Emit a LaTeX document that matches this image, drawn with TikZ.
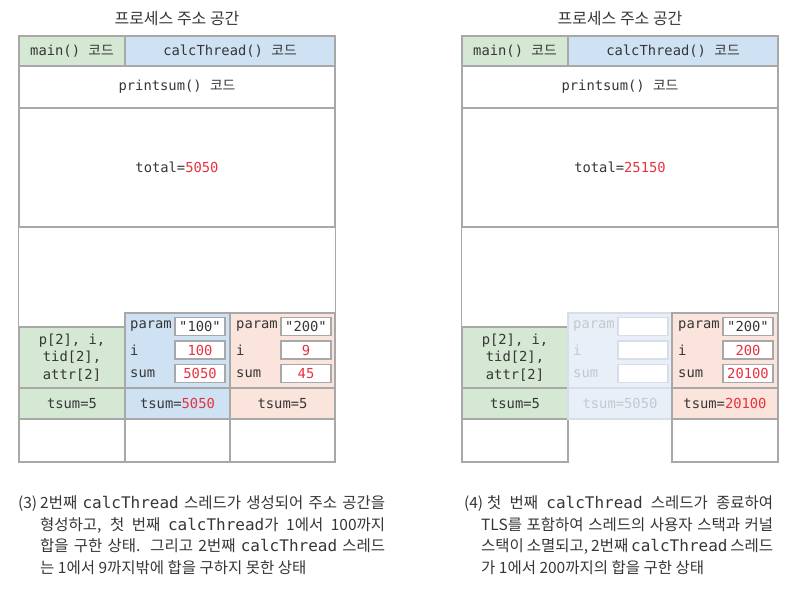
\documentclass[tikz,border=0pt]{standalone}
\usepackage{fontspec}
\setmainfont{Noto Sans CJK KR}
\newfontfamily\codefont{DejaVu Sans Mono}
\newcommand{\hangul}[1]{{\rmfamily #1}}
\newcommand{\capcode}[1]{{\codefont\fontsize{16}{21.7}\selectfont #1}}
\newlength{\du}
\setlength{\du}{1pt}
\definecolor{linegray}{HTML}{A8A8A8}
\definecolor{textgray}{HTML}{363636}
\definecolor{numred}{HTML}{E8313F}
\definecolor{codegreen}{HTML}{D4E8D3}
\definecolor{codeblue}{HTML}{CFE2F4}
\definecolor{codepink}{HTML}{FBE4DB}
\definecolor{fadeblue}{HTML}{E9EFF8}
\definecolor{fadeline}{HTML}{D8DEE8}
\definecolor{fadetext}{HTML}{C4C8CF}
\tikzset{
  cell/.style={draw=linegray, line width=1.1pt, inner sep=0pt, text=textgray,
    font=\codefont\fontsize{13.8}{17.5}\selectfont},
  valbox/.style={cell, fill=white, minimum width=50\du, minimum height=18\du},
  fadecell/.style={cell, draw=fadeline, text=fadetext},
  lbl/.style={anchor=west, inner sep=0pt, text=textgray, font=\codefont\fontsize{13.8}{17.5}\selectfont},
  title/.style={inner sep=0pt, text=textgray, font=\fontsize{16}{19}\selectfont},
  caption/.style={anchor=north west, inner sep=0pt, align=left, text=textgray,
    font=\fontsize{15.5}{21.7}\selectfont},
  frame/.style={draw=linegray, line width=1.1pt}
}

\begin{document}
\begin{tikzpicture}
\pgftransformyscale{-1.000000}
\useasboundingbox (0\du,0\du) rectangle (798\du,592\du);
% (3) left address space
\node[title] (titleA) at (177\du,19\du){프로세스 주소 공간};
\node[cell, fill=codegreen, minimum width=106\du, minimum height=30\du] (mainA) at (72\du,51\du){main() \hangul{코드}};
\node[cell, fill=codeblue, minimum width=210\du, minimum height=30\du] (calcA) at (230\du,51\du){calcThread() \hangul{코드}};
\node[cell, minimum width=316\du, minimum height=42\du] (printA) at (177\du,87\du){printsum() \hangul{코드}};
\node[cell, minimum width=316\du, minimum height=119\du] (totalA) at (177\du,167.5\du){total=\textcolor{numred}{5050}};
% stack of main()
\node[cell, fill=codegreen, minimum width=106\du, minimum height=61\du, align=center] (varsA) at (72\du,357.5\du){p[2], i,\\tid[2],\\attr[2]};
\node[cell, fill=codegreen, minimum width=106\du, minimum height=31\du] (tsumA) at (72\du,403.5\du){tsum=5};
\node[cell, minimum width=106\du, minimum height=43\du] (emptyA) at (72\du,440.5\du){};
% stack of 1st calcThread
\node[cell, fill=codeblue, minimum width=105\du, minimum height=75\du] (stackA) at (177.5\du,350.5\du){};
\node[cell, fill=codeblue, minimum width=105\du, minimum height=31\du] (tlsA) at (177.5\du,403.5\du){tsum=\textcolor{numred}{5050}};
\node[cell, minimum width=105\du, minimum height=43\du] (emptyB) at (177.5\du,440.5\du){};
\node[lbl] (paramA) at (130\du,326.5\du){param};
\node[lbl] (iA) at (130\du,350\du){i};
\node[lbl] (sumA) at (130\du,373.5\du){sum};
\node[valbox] (paramvA) at (200\du,326.5\du){"100"};
\node[valbox] (ivA) at (200\du,350\du){\textcolor{numred}{100}};
\node[valbox] (sumvA) at (200\du,373.5\du){\textcolor{numred}{5050}};
% stack of 2nd calcThread
\node[cell, fill=codepink, minimum width=105\du, minimum height=75\du] (stackB) at (282.5\du,350.5\du){};
\node[cell, fill=codepink, minimum width=105\du, minimum height=31\du] (tlsB) at (282.5\du,403.5\du){tsum=5};
\node[cell, minimum width=105\du, minimum height=43\du] (emptyC) at (282.5\du,440.5\du){};
\node[lbl] (paramB) at (236\du,326.5\du){param};
\node[lbl] (iB) at (236\du,350\du){i};
\node[lbl] (sumB) at (236\du,373.5\du){sum};
\node[valbox] (paramvB) at (306\du,326.5\du){"200"};
\node[valbox] (ivB) at (306\du,350\du){\textcolor{numred}{9}};
\node[valbox] (sumvB) at (306\du,373.5\du){\textcolor{numred}{45}};
\draw[frame] (totalA.south west)--(varsA.north west);
\draw[frame] (totalA.south east)--(stackB.north east);
\node[caption] (capA) at (40\du,495.5\du){%
\makebox[345\du][s]{\llap{(3)\hspace{3\du}}2번째 \capcode{calcThread} 스레드가 생성되어 주소 공간을}\\
\makebox[345\du][s]{형성하고, 첫 번째 \capcode{calcThread}가 1에서 100까지}\\
\makebox[345\du][s]{합을 구한 상태. 그리고 2번째 \capcode{calcThread} 스레드}\\
는 1에서 9까지밖에 합을 구하지 못한 상태};
% (4) right address space
\node[title] (titleB) at (620\du,19\du){프로세스 주소 공간};
\node[cell, fill=codegreen, minimum width=106\du, minimum height=30\du] (mainB) at (515\du,51\du){main() \hangul{코드}};
\node[cell, fill=codeblue, minimum width=210\du, minimum height=30\du] (calcB) at (673\du,51\du){calcThread() \hangul{코드}};
\node[cell, minimum width=316\du, minimum height=42\du] (printB) at (620\du,87\du){printsum() \hangul{코드}};
\node[cell, minimum width=316\du, minimum height=119\du] (totalB) at (620\du,167.5\du){total=\textcolor{numred}{25150}};
% stack of main()
\node[cell, fill=codegreen, minimum width=106\du, minimum height=61\du, align=center] (varsB) at (515\du,357.5\du){p[2], i,\\tid[2],\\attr[2]};
\node[cell, fill=codegreen, minimum width=106\du, minimum height=31\du] (tsumB) at (515\du,403.5\du){tsum=5};
\node[cell, minimum width=106\du, minimum height=43\du] (emptyD) at (515\du,440.5\du){};
% 1st calcThread, finished
\node[fadecell, fill=fadeblue, minimum width=104\du, minimum height=75\du] (stackC) at (620\du,350.5\du){};
\node[fadecell, fill=fadeblue, minimum width=104\du, minimum height=31\du] (tlsC) at (620\du,403.5\du){tsum=5050};
\node[lbl, text=fadetext] (paramC) at (573\du,326.5\du){param};
\node[lbl, text=fadetext] (iC) at (573\du,350\du){i};
\node[lbl, text=fadetext] (sumC) at (573\du,373.5\du){sum};
\node[valbox, draw=fadeline] (paramvC) at (643\du,326.5\du){};
\node[valbox, draw=fadeline] (ivC) at (643\du,350\du){};
\node[valbox, draw=fadeline] (sumvC) at (643\du,373.5\du){};
% stack of 2nd calcThread
\node[cell, fill=codepink, minimum width=106\du, minimum height=75\du] (stackD) at (725\du,350.5\du){};
\node[cell, fill=codepink, minimum width=106\du, minimum height=31\du] (tlsD) at (725\du,403.5\du){tsum=\textcolor{numred}{20100}};
\node[cell, minimum width=106\du, minimum height=43\du] (emptyE) at (725\du,440.5\du){};
\node[lbl] (paramD) at (678\du,326.5\du){param};
\node[lbl] (iD) at (678\du,350\du){i};
\node[lbl] (sumD) at (678\du,373.5\du){sum};
\node[valbox] (paramvD) at (748\du,326.5\du){"200"};
\node[valbox] (ivD) at (748\du,350\du){\textcolor{numred}{200}};
\node[valbox] (sumvD) at (748\du,373.5\du){\textcolor{numred}{20100}};
\draw[frame] (totalB.south west)--(varsB.north west);
\draw[frame] (totalB.south east)--(stackD.north east);
\node[caption] (capB) at (481\du,495.5\du){%
\makebox[292\du][s]{\hspace{6\du}\llap{(4)\hspace{4\du}}첫 번째 \capcode{calcThread} 스레드가 종료하여}\\
\makebox[292\du][s]{TLS를 포함하여 스레드의 사용자 스택과 커널}\\
\makebox[292\du][s]{스택이 소멸되고, 2번째 \capcode{calcThread} 스레드}\\
가 1에서 200까지의 합을 구한 상태};
\end{tikzpicture}
\end{document}
